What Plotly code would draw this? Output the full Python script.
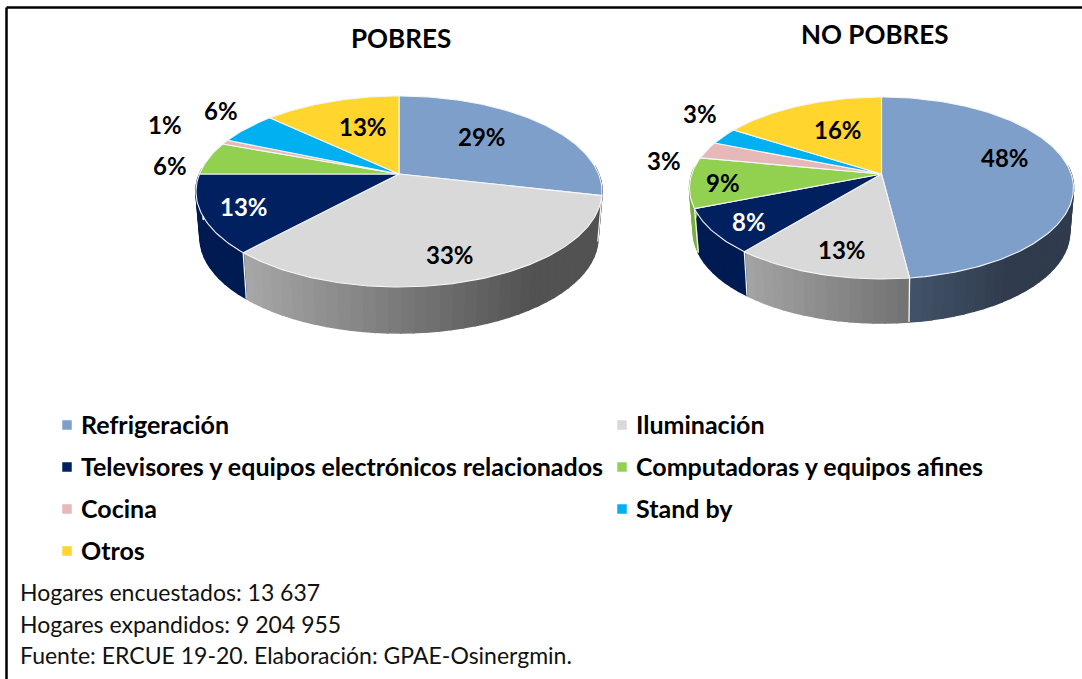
import math
import plotly.graph_objects as go

categories = ["Refrigeración", "Iluminación", "Televisores y equipos electrónicos relacionados",
              "Computadoras y equipos afines", "Cocina", "Stand by", "Otros"]
pobres = [28.6, 33.2, 13.2, 5.6, 0.8, 5.6, 13.0]
no_pobres = [48, 13, 8, 9, 3, 3, 16]
footer = ["Hogares encuestados: 13 637", "Hogares expandidos: 9 204 955",
          "Fuente: ERCUE 19-20. Elaboración: GPAE-Osinergmin."]

COLORS = ["#7F9FCB", "#D9D9D9", "#002060", "#92D050", "#E6B9B8", "#00B0F0", "#FFD52E"]
LABEL_COLORS = ["#000", "#000", "#fff", "#000", "#000", "#000", "#000"]
FONT = "Lato, Carlito, Calibri, sans-serif"

PIES = [
    dict(values=pobres, cx=399, cy=174, rx=199.6, ry=92.3, k=0.183, depth=46,
         label_xy=[(482, 136), (450, 254), (244, 206), (170, 165), (165, 124), (221, 110), (363, 126)]),
    dict(values=no_pobres, cx=881.5, cy=174, rx=189.7, ry=88.8, k=0.154, depth=44,
         label_xy=[(1005, 157), (842, 249), (749, 221), (723, 182), (664, 160), (700, 113), (838, 129)]),
]
BASE_SCALE = 0.98  # lower rim of the wall is slightly narrower than the top face


def project(p, theta):
    """Clockwise angle from the top of the circle to tilted-pie pixel coordinates."""
    u, v = math.sin(theta), -math.cos(theta)
    w = 1 - p["k"] * v
    return p["cx"] + p["rx"] * u / w, p["cy"] + p["ry"] * v / w


def lower(p, x, y):
    return p["cx"] + (x - p["cx"]) * BASE_SCALE, y + p["depth"]


def shade(hex_color, f):
    r, g, b = (int(hex_color[i:i + 2], 16) for i in (1, 3, 5))
    return f"rgb({r * f:.0f},{g * f:.0f},{b * f:.0f})"


fig = go.Figure()

for p in PIES:
    total = sum(p["values"])
    left, right = p["cx"] - p["rx"] * 1.017, p["cx"] + p["rx"] * 1.017
    edges, acc = [], 0
    for val in p["values"]:
        edges.append((acc / total * 2 * math.pi, (acc + val) / total * 2 * math.pi))
        acc += val

    # side wall, drawn as narrow bands so the shading runs from left to right
    for i, (a0, a1) in enumerate(edges):
        n = max(2, int((a1 - a0) / math.radians(3)))
        for j in range(n):
            t0 = a0 + (a1 - a0) * j / n
            t1 = a0 + (a1 - a0) * (j + 1) / n
            if -math.cos((t0 + t1) / 2) < -0.08:
                continue
            x0, y0 = project(p, t0)
            x1, y1 = project(p, t1)
            bx0, by0 = lower(p, x0, y0)
            bx1, by1 = lower(p, x1, y1)
            frac = ((x0 + x1) / 2 - left) / (right - left)
            f = 0.85 if i == 2 else max(0.38, 0.77 - (frac - 0.12) * 0.55)
            col = shade(COLORS[i], f)
            fig.add_trace(go.Scatter(
                x=[x0, x1, bx1, bx0, x0], y=[y0, y1, by1, by0, y0],
                mode="lines", fill="toself", fillcolor=col, line=dict(color=col, width=1.6),
                hoverinfo="skip", showlegend=False))
    # seams between two wall sections
    for i, (a0, a1) in enumerate(edges):
        xs, ys = project(p, a0)
        if -math.cos(a0) > 0 and i > 0:
            bx, by = lower(p, xs, ys)
            fig.add_trace(go.Scatter(x=[xs, bx], y=[ys, by], mode="lines",
                                     line=dict(color="#f4f4f4", width=1.3),
                                     hoverinfo="skip", showlegend=False))

    # top face
    for i, (a0, a1) in enumerate(edges):
        n = max(2, int((a1 - a0) / math.radians(1)))
        pts = [project(p, a0 + (a1 - a0) * j / n) for j in range(n + 1)]
        xs = [p["cx"]] + [q[0] for q in pts] + [p["cx"]]
        ys = [p["cy"]] + [q[1] for q in pts] + [p["cy"]]
        fig.add_trace(go.Scatter(
            x=xs, y=ys, mode="lines", fill="toself", fillcolor=COLORS[i],
            line=dict(color="#f4f6f8", width=1.1),
            name=categories[i], text=f"{categories[i]}: {round(p['values'][i])}%",
            hoverinfo="text", showlegend=False))

    for i, val in enumerate(p["values"]):
        x, y = p["label_xy"][i]
        fig.add_annotation(x=x, y=y, text=f"<b>{round(val)}%</b>", showarrow=False,
                           font=dict(family=FONT, size=24, color=LABEL_COLORS[i]))

# titles
for text, x, y in [("POBRES", 401, 38), ("NO POBRES", 875, 34)]:
    fig.add_annotation(x=x, y=y, text=f"<b>{text}</b>", showarrow=False,
                       font=dict(family=FONT, size=26, color="#000"))

# legend, two columns
LEG_ROWS = [425, 467, 509, 551]
LEG_COLS = [67, 622]
for i, cat in enumerate(categories):
    lx = LEG_COLS[i % 2]
    ly = LEG_ROWS[i // 2]
    fig.add_trace(go.Scatter(x=[lx], y=[ly], mode="markers",
                             marker=dict(symbol="square", size=9.5, color=COLORS[i]),
                             hoverinfo="skip", showlegend=False))
    fig.add_annotation(x=lx + 12, y=ly - 1, text=f"<b>{cat}</b>", showarrow=False, xanchor="left",
                       font=dict(family=FONT, size=25, color="#000"))

# footer
for text, y in zip(footer, [592, 624, 654.5]):
    fig.add_annotation(x=18, y=y, text=text, showarrow=False, xanchor="left",
                       font=dict(family=FONT, size=23, color="#111"))

# page frame
fig.add_shape(type="line", x0=6.5, x1=1082, y0=7.5, y1=7.5, line=dict(color="#000", width=2.5))
fig.add_shape(type="line", x0=6.5, x1=6.5, y0=7.5, y1=679, line=dict(color="#000", width=2.5))

fig.update_layout(
    width=1082, height=679, margin=dict(l=0, r=0, t=0, b=0),
    paper_bgcolor="#fff", plot_bgcolor="#fff", showlegend=False,
    xaxis=dict(range=[0, 1082], visible=False, fixedrange=True),
    yaxis=dict(range=[679, 0], visible=False, fixedrange=True),
)
fig.write_html("out.html", post_script="document.body.style.margin='0';document.body.style.overflow='hidden';",
               config={"displayModeBar": False})
